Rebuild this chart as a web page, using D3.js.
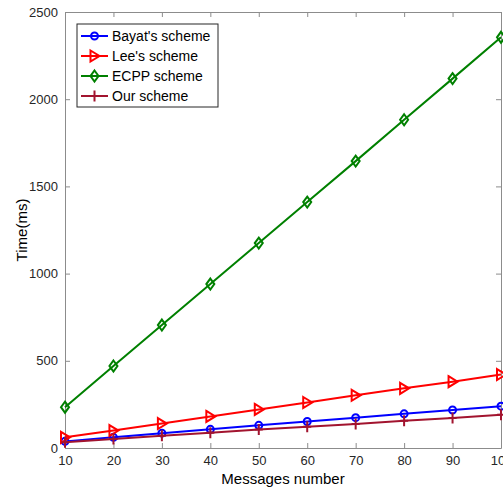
<!DOCTYPE html>
<html>
<head>
<meta charset="utf-8">
<script src="https://cdn.jsdelivr.net/npm/d3@7"></script>
<style>
  body { margin: 0; background: #fff; }
  svg { font-family: "Liberation Sans", Arial, sans-serif; }
</style>
</head>
<body>
<div id="chart"></div>
<script>
// Chart data
// ==============================
var messages = [10, 20, 30, 40, 50, 60, 70, 80, 90, 100];
var bayat = [38, 61, 85, 107, 130, 152, 174, 196, 218, 240];
var lee = [61, 100, 140, 181, 221, 261, 302, 342, 380, 421];
var ecpp = [234, 470, 705, 940, 1175, 1410, 1645, 1882, 2118, 2355];
var ours = [33, 52, 70, 88, 106, 122, 138, 156, 172, 190];
var seriesNames = ["Bayat's scheme", "Lee's scheme", "ECPP scheme", "Our scheme"];
var xTicks = [10, 20, 30, 40, 50, 60, 70, 80, 90, 100];
var yTicks = [0, 500, 1000, 1500, 2000, 2500];

var svgWidth = 503, svgHeight = 489;
var margin = { top: 12, right: 2, bottom: 41, left: 65 };
var width = svgWidth - margin.left - margin.right;
var height = svgHeight - margin.top - margin.bottom;

var svg = d3.select("#chart").append("svg")
  .attr("width", svgWidth)
  .attr("height", svgHeight);

var chartGroup = svg.append("g")
  .attr("transform", `translate(${margin.left}, ${margin.top})`);

// Scales
// ==============================
var xScale = d3.scaleLinear().domain([10, 100]).range([0, width]);
var yScale = d3.scaleLinear().domain([0, 2500]).range([height, 0]);

var axisColor = "#8c8c8c";
var textColor = "#262626";

// Axes (ticks inside, mirrored on top/right)
// ==============================
function styleAxis(g) {
  g.select(".domain").attr("stroke", axisColor);
  g.selectAll(".tick line").attr("stroke", axisColor);
  g.selectAll(".tick text").attr("fill", textColor).attr("font-size", "13px");
}

chartGroup.append("g")
  .attr("transform", `translate(0, ${height})`)
  .call(d3.axisBottom(xScale).tickValues(xTicks).tickFormat(d3.format("d"))
    .tickSize(-5).tickPadding(8).tickSizeOuter(0))
  .call(styleAxis);

chartGroup.append("g")
  .call(d3.axisTop(xScale).tickValues(xTicks).tickSize(-5).tickFormat("").tickSizeOuter(0))
  .call(styleAxis);

chartGroup.append("g")
  .call(d3.axisLeft(yScale).tickValues(yTicks).tickFormat(d3.format("d"))
    .tickSize(-5).tickPadding(7).tickSizeOuter(0))
  .call(styleAxis);

chartGroup.append("g")
  .attr("transform", `translate(${width}, 0)`)
  .call(d3.axisRight(yScale).tickValues(yTicks).tickSize(-5).tickFormat("").tickSizeOuter(0))
  .call(styleAxis);

// Series
// ==============================
var series = [
  { name: seriesNames[0], values: bayat, color: "#0000ff", marker: "circle" },
  { name: seriesNames[1], values: lee, color: "#ff0000", marker: "triangle" },
  { name: seriesNames[2], values: ecpp, color: "#008000", marker: "diamond" },
  { name: seriesNames[3], values: ours, color: "#a2142f", marker: "plus" }
];

var line = d3.line()
  .x(d => xScale(d[0]))
  .y(d => yScale(d[1]));

function drawMarker(g, type, color) {
  if (type === "circle") {
    g.append("circle").attr("r", 3.5)
      .attr("fill", "none").attr("stroke", color).attr("stroke-width", 2);
  } else if (type === "triangle") {
    g.append("path").attr("d", "M-4,-5.5 L5,0 L-4,5.5 Z")
      .attr("fill", "none").attr("stroke", color).attr("stroke-width", 2);
  } else if (type === "diamond") {
    g.append("path").attr("d", "M0,-5.5 L4,0 L0,5.5 L-4,0 Z")
      .attr("fill", "none").attr("stroke", color).attr("stroke-width", 2);
  } else {
    g.append("path").attr("d", "M-4,0 L4,0 M0,-5.5 L0,5.5")
      .attr("fill", "none").attr("stroke", color).attr("stroke-width", 2);
  }
}

series.forEach(function(s) {
  var pts = messages.map((m, i) => [m, s.values[i]]);
  chartGroup.append("path")
    .datum(pts)
    .attr("fill", "none")
    .attr("stroke", s.color)
    .attr("stroke-width", 2)
    .attr("d", line);

  chartGroup.selectAll(null)
    .data(pts)
    .enter()
    .append("g")
    .attr("transform", d => `translate(${xScale(d[0])}, ${yScale(d[1])})`)
    .each(function() { drawMarker(d3.select(this), s.marker, s.color); });
});

// Legend
// ==============================
var legend = svg.append("g").attr("transform", "translate(77, 24)");
legend.append("rect")
  .attr("width", 141).attr("height", 83)
  .attr("fill", "#fff").attr("stroke", "#262626").attr("stroke-width", 1);

series.forEach(function(s, i) {
  var row = legend.append("g").attr("transform", `translate(0, ${12 + i * 20})`);
  row.append("line")
    .attr("x1", 4).attr("x2", 31)
    .attr("stroke", s.color).attr("stroke-width", 2);
  var mk = row.append("g").attr("transform", "translate(17.5, 0)");
  drawMarker(mk, s.marker, s.color);
  row.append("text")
    .attr("x", 35).attr("dy", "0.35em")
    .attr("font-size", "14px")
    .attr("fill", "#000")
    .text(s.name);
});

// Axis labels
// ==============================
svg.append("text")
  .attr("x", margin.left + width / 2)
  .attr("y", 484)
  .attr("text-anchor", "middle")
  .attr("font-size", "15px")
  .attr("fill", "#000")
  .text("Messages number");

svg.append("text")
  .attr("transform", `translate(27, ${margin.top + height / 2}) rotate(-90)`)
  .attr("text-anchor", "middle")
  .attr("font-size", "15px")
  .attr("fill", "#000")
  .text("Time(ms)");
</script>
</body>
</html>
